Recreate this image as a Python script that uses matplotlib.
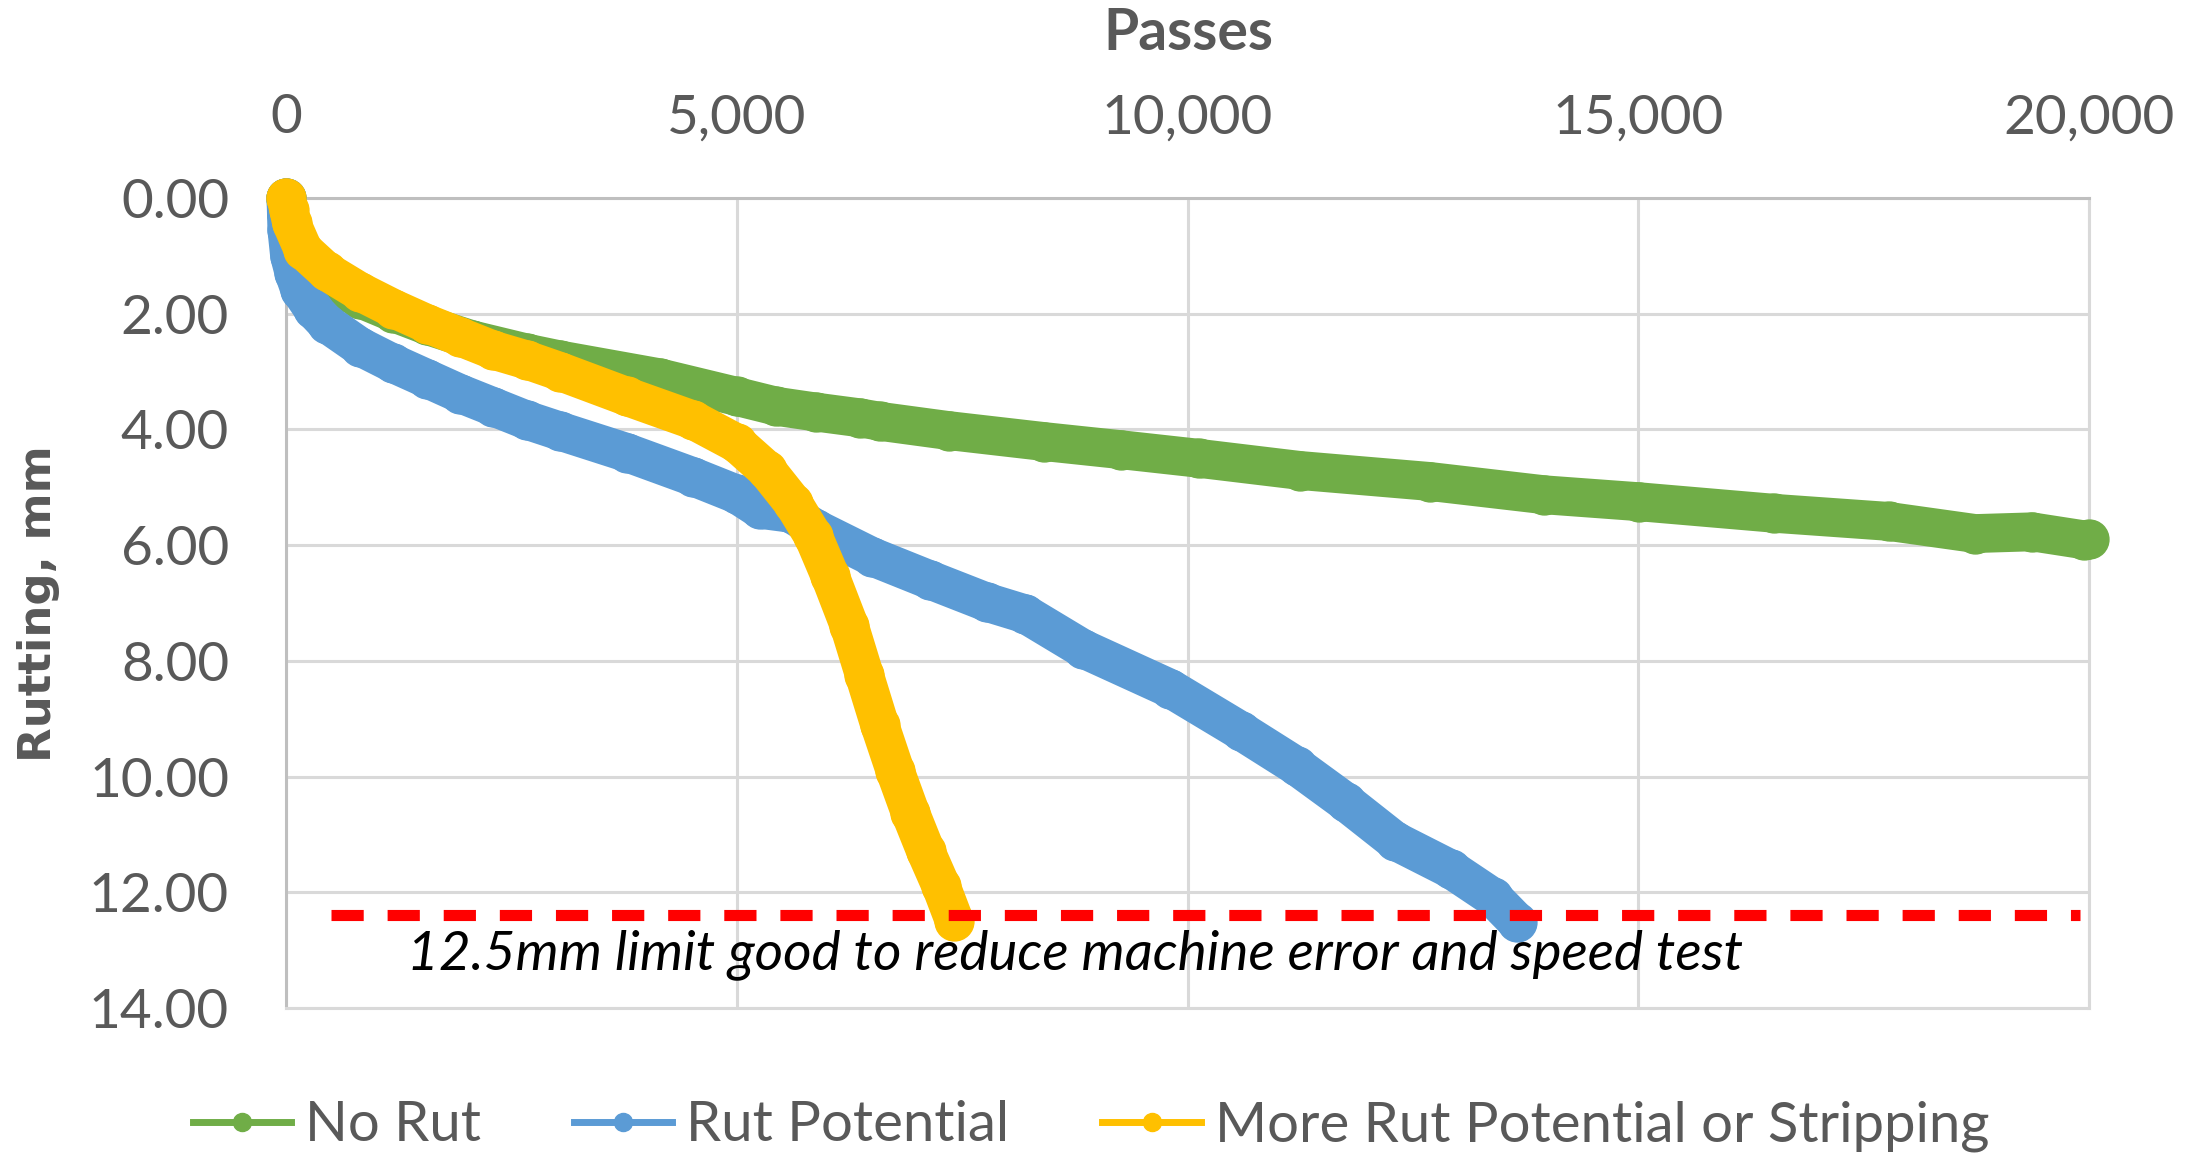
import matplotlib
matplotlib.use("Agg")
import matplotlib.pyplot as plt
from matplotlib.lines import Line2D
from matplotlib.ticker import FuncFormatter

# Hamburg wheel-tracking results: rut depth vs. wheel passes
green_passes = [0, 10, 50, 150, 451, 821, 1190, 1560, 2060, 2670, 3040, 4150,
                5000, 5440, 5880, 6367, 6590, 7350, 8410, 9260, 10130, 11250,
                12690, 13960, 15010, 16510, 17780, 18740, 19370, 19950, 20000]
green_rut = [0.00, 0.30, 0.60, 1.00, 1.45, 1.74, 1.98, 2.20, 2.45, 2.68, 2.80, 3.11,
             3.43, 3.60, 3.70, 3.80, 3.86, 4.02, 4.21, 4.35, 4.50, 4.71,
             4.90, 5.13, 5.25, 5.45, 5.59, 5.80, 5.77, 5.91, 5.90]

blue_passes = [0, 10, 40, 90, 155, 300, 451, 821, 1190, 1560, 1930, 2300, 2670,
               3040, 3779, 4518, 5000, 5258, 5600, 5880, 6500, 7140, 7780, 8200,
               8840, 9810, 10590, 11210, 11755, 12300, 12920, 13390, 13660]
blue_rut = [0.00, 0.55, 1.00, 1.30, 1.59, 1.92, 2.17, 2.57, 2.86, 3.12, 3.38, 3.61, 3.84,
            4.03, 4.40, 4.82, 5.12, 5.38, 5.45, 5.72, 6.20, 6.60, 6.99, 7.19,
            7.79, 8.48, 9.21, 9.82, 10.44, 11.11, 11.60, 12.09, 12.52]

yellow_passes = [0, 30, 63, 192, 451, 821, 1190, 1560, 1930, 2300, 2670, 3040,
                 3779, 4518, 5000, 5332, 5628, 5850, 6035, 6248, 6417, 6587,
                 6757, 6927, 7097, 7266, 7415]
yellow_rut = [0.00, 0.20, 0.44, 0.90, 1.27, 1.62, 1.91, 2.17, 2.40, 2.63, 2.80, 3.00,
              3.43, 3.84, 4.24, 4.70, 5.28, 5.85, 6.53, 7.39, 8.25, 9.11,
              9.90, 10.63, 11.29, 11.89, 12.50]

series_names = ["No Rut", "Rut Potential", "More Rut Potential or Stripping"]
series_colors = ["#70AD47", "#5B9BD5", "#FFC000"]

limit_passes = [500, 19900]
limit_rut = 12.4
limit_note = "12.5mm limit good to reduce machine error and speed test"

x_ticks = [0, 5000, 10000, 15000, 20000]
y_ticks = [0, 2, 4, 6, 8, 10, 12, 14]

TEXT = "#595959"
GRID = "#D9D9D9"
FONT = "Lato"

fig = plt.figure(figsize=(22.01, 11.55), dpi=100)
ax = fig.add_axes([286 / 2201, 1 - 1008 / 1155, (2089 - 286) / 2201, (1008 - 198) / 1155])

data = [(green_passes, green_rut), (blue_passes, blue_rut), (yellow_passes, yellow_rut)]
for (px, ry), col in zip(data, series_colors):
    ax.plot(px, ry, color=col, lw=28, marker="o", ms=28, mec=col, mfc=col,
            solid_capstyle="round", solid_joinstyle="round", clip_on=False, zorder=3)

ax.plot(limit_passes, [limit_rut, limit_rut], color="#FF0000", lw=8,
        dashes=(2.9, 2.15), dash_capstyle="butt", zorder=4)
ax.text(1340, 13.07, limit_note, fontsize=39.5, style="italic", family=FONT,
        color="black", ha="left", va="center", zorder=5)

ax.set_xlim(0, 20000)
ax.set_ylim(14, 0)
ax.set_xticks(x_ticks)
ax.set_yticks(y_ticks)
ax.xaxis.set_major_formatter(FuncFormatter(lambda v, p: f"{int(v):,}"))
ax.yaxis.set_major_formatter(FuncFormatter(lambda v, p: f"{v:.2f}"))
ax.xaxis.tick_top()
ax.tick_params(axis="x", length=0, pad=40, labelsize=39.5, labelcolor=TEXT)
ax.tick_params(axis="y", length=0, pad=41, labelsize=39.5, labelcolor=TEXT)
for lab in ax.get_xticklabels() + ax.get_yticklabels():
    lab.set_family(FONT)

ax.grid(True, color=GRID, lw=2.2, zorder=0)
ax.set_axisbelow(True)
for side, sp in ax.spines.items():
    sp.set_color("#BFBFBF" if side in ("top", "left") else GRID)
    sp.set_linewidth(2.2)

fig.text(1188 / 2201, 1 - 33 / 1155, "Passes", fontsize=41, fontweight="bold",
         family=FONT, color=TEXT, ha="center", va="center")
fig.text(39 / 2201, 1 - 604 / 1155, "Rutting, mm", fontsize=32.5, fontweight="bold",
         family="DejaVu Sans", color=TEXT, ha="center", va="center", rotation=90)

handles = [Line2D([0], [0], color=c, lw=5, marker="o", ms=13, mfc=c, mec=c)
           for c in series_colors]
leg = fig.legend(handles, series_names, loc="center", ncol=3,
                 bbox_to_anchor=(1091 / 2201, 1 - 1126 / 1155), frameon=False,
                 prop={"family": FONT, "size": 40.5}, handlelength=1.75,
                 handletextpad=0.25, columnspacing=1.65)
for t in leg.get_texts():
    t.set_color(TEXT)

fig.savefig("out.png", dpi=100, facecolor="white")
